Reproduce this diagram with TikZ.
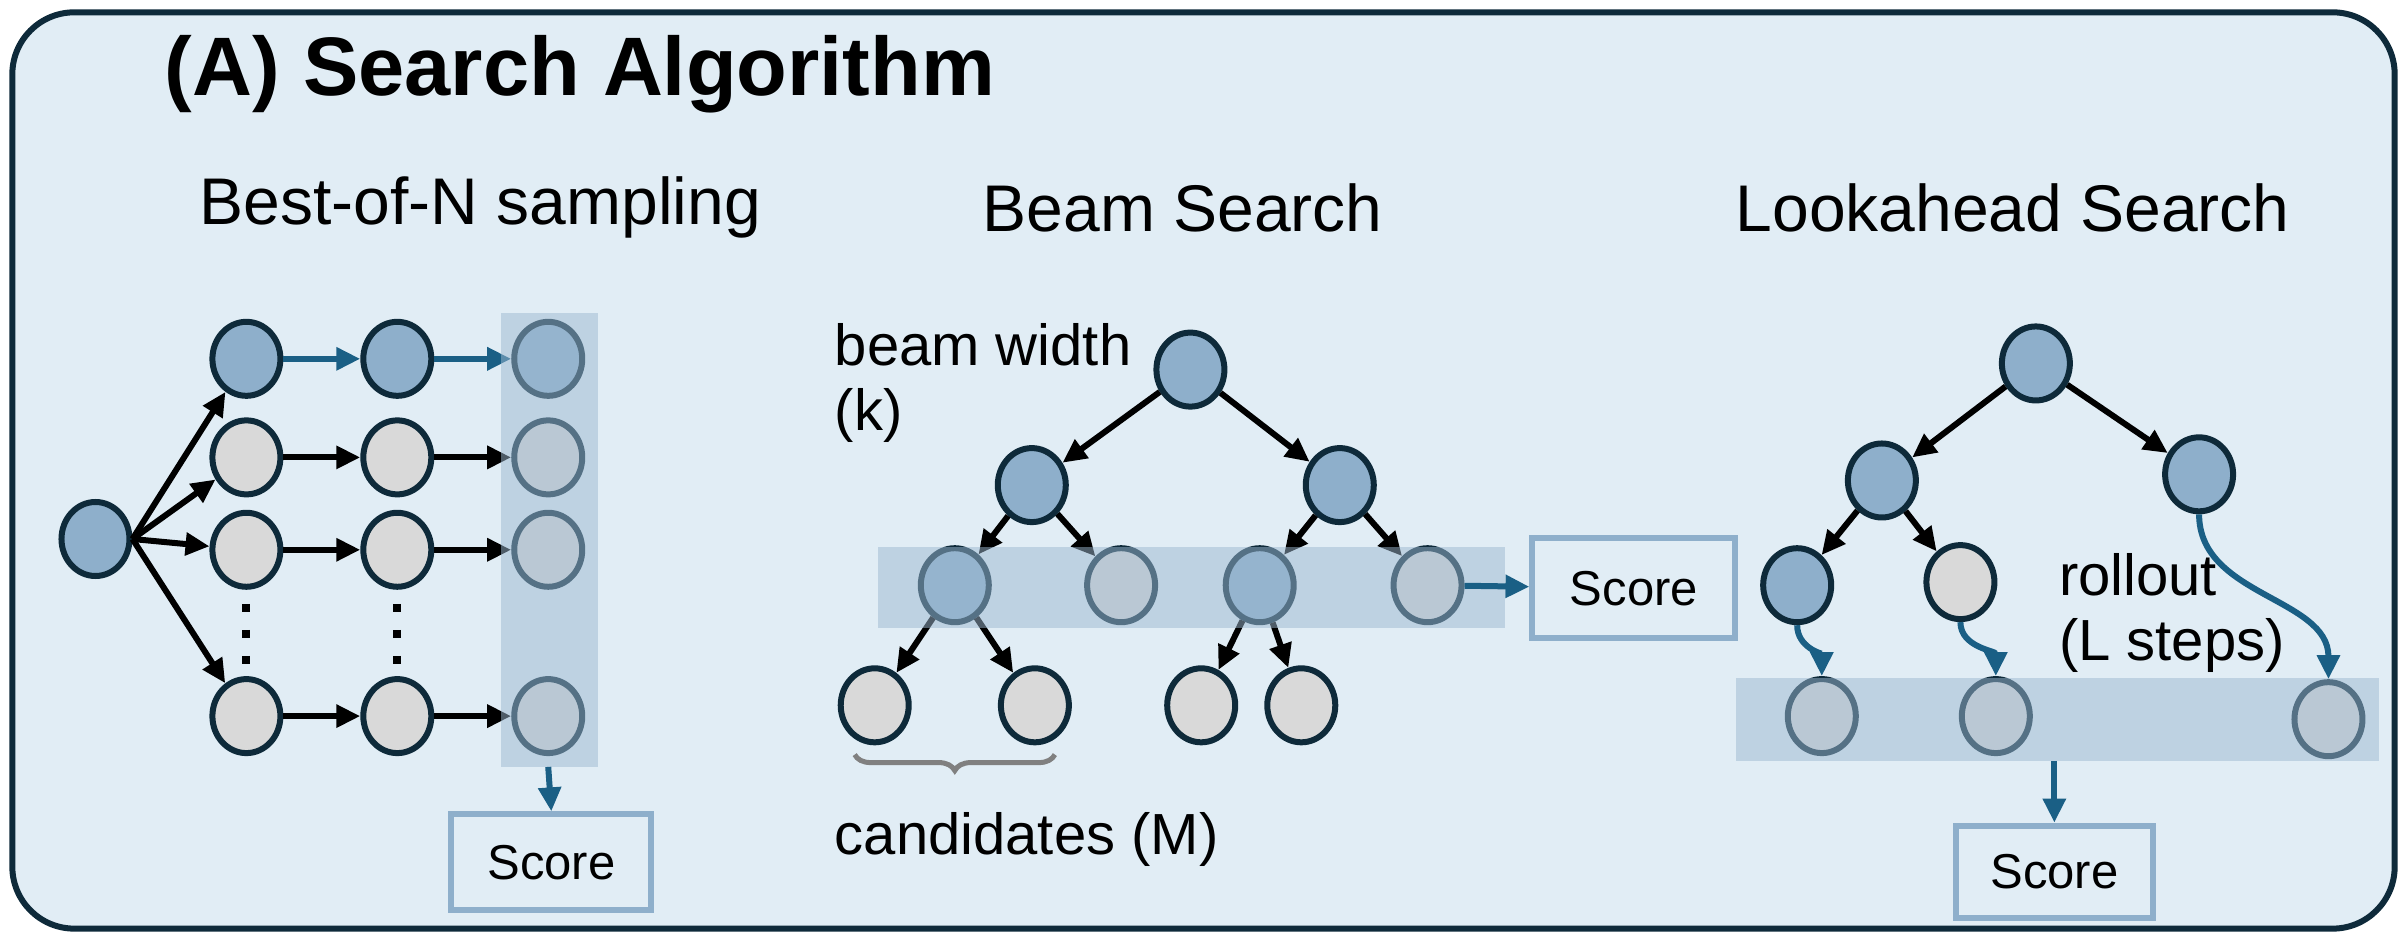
\documentclass[tikz,border=0pt]{standalone}
\usepackage{fontspec}
\setmainfont{Liberation Sans}
\usetikzlibrary{arrows.meta,shapes.geometric,decorations.pathreplacing}
\definecolor{bgblue}{HTML}{E1EDF5}
\definecolor{frame}{HTML}{0E2A3A}
\definecolor{nblue}{HTML}{8EAFCB}
\definecolor{ngrey}{HTML}{D9D9D9}
\definecolor{bandc}{HTML}{9DB9D1}
\definecolor{arrblue}{HTML}{1A5F85}
\begin{document}
\begin{tikzpicture}[x=1.54pt,y=-1.54pt,>={Triangle[length=24pt,width=22pt]},
	line width=6pt]
	\tikzset{nd/.style={ellipse,draw=frame,line width=6pt,minimum width=68pt,minimum height=74pt,inner sep=0pt},
		bl/.style={nd,fill=nblue},
		gr/.style={nd,fill=ngrey},
		band/.style={fill=bandc,opacity=0.5},
		score/.style={draw=nblue,line width=6pt,font=\fontsize{49}{56}\selectfont},
		blarr/.style={->,draw=arrblue,line width=6pt},
		sub/.style={font=\fontsize{66}{76}\selectfont}}
	\useasboundingbox (0,0) rectangle (1563,610.4);
	\draw[fill=bgblue,draw=frame,line width=6pt,rounded corners=62pt] (8,8) rectangle (1555,603);
	\node[anchor=west,font=\bfseries\fontsize{83}{90}\selectfont] (title) at (103,48) {(A) Search Algorithm};
	\node[sub] (t1) at (312,135) {Best-of-N sampling};
	\node[sub] (t2) at (768,135) {Beam Search};
	\node[sub] (t3) at (1307,135) {Lookahead Search};
	% Best-of-N
	\node[bl] (r) at (62,350) {};
	\node[bl] (b11) at (160,233) {};
	\node[bl] (b12) at (258,233) {};
	\node[bl] (b13) at (356,233) {};
	\foreach \y/\n in {297/2,357/3,465/4}{
		\node[gr] (b\n1) at (160,\y) {};
		\node[gr] (b\n2) at (258,\y) {};
		\node[gr] (b\n3) at (356,\y) {};
		\draw[->] (b\n1) -- (b\n2);
		\draw[->] (b\n2) -- (b\n3);
	}
	\foreach \n in {1,...,4} \draw[->] (r.east) -- (b\n1);
	\draw[blarr] (b11) -- (b12);
	\draw[blarr] (b12) -- (b13);
	\draw[line width=8pt,dash pattern=on 8pt off 18pt] ([yshift=-14pt]b31.south) -- (b41.north);
	\draw[line width=8pt,dash pattern=on 8pt off 18pt] ([yshift=-14pt]b32.south) -- (b42.north);
	\fill[band] (325,203) rectangle (388,498);
	\node[score,minimum width=200pt,minimum height=96pt] (s1) at (358,560) {Score};
	\coordinate (c1) at (356,498);
	\draw[blarr] (c1) -- (s1.north);
	% Beam search
	\node[bl] (a0) at (773,240) {};
	\node[bl] (a1) at (670,315) {};
	\node[bl] (a2) at (870,315) {};
	\node[bl] (a11) at (620,380) {};
	\node[gr] (a12) at (728,380) {};
	\node[bl] (a21) at (818,380) {};
	\node[gr] (a22) at (927,380) {};
	\node[gr] (c11) at (568,458) {};
	\node[gr] (c12) at (672,458) {};
	\node[gr] (c21) at (780,458) {};
	\node[gr] (c22) at (845,458) {};
	\foreach \p/\c in {a0/a1,a0/a2,a1/a11,a1/a12,a2/a21,a2/a22,a11/c11,a11/c12,a21/c21,a21/c22}
		\draw[->] (\p) -- (\c);
	\fill[band] (570,355) rectangle (977,408);
	\node[score,minimum width=203pt,minimum height=100pt] (s2) at (1061,382) {Score};
	\draw[blarr] (a22) -- (s2);
	\node[anchor=north west,align=left,font=\fontsize{58}{65}\selectfont] (bw) at (538,206) {beam width\\(k)};
	\draw[decorate,decoration={brace,mirror,amplitude=16pt},draw=gray,line width=5pt] (555,490) -- (685,490);
	\node[anchor=west,font=\fontsize{58}{65}\selectfont] (cand) at (538,545) {candidates (M)};
	% Lookahead search
	\node[bl] (l0) at (1322,236) {};
	\node[bl] (l1) at (1222,312) {};
	\node[bl] (l2) at (1428,308) {};
	\node[bl] (l11) at (1167,380) {};
	\node[gr] (l12) at (1273,378) {};
	\node[gr] (e1) at (1183,465) {};
	\node[gr] (e2) at (1296,465) {};
	\node[gr] (e3) at (1512,467) {};
	\foreach \p/\c in {l0/l1,l0/l2,l1/l11,l1/l12} \draw[->] (\p) -- (\c);
	\draw[blarr] (l11.south) to[out=-90,in=90] (e1.north);
	\draw[blarr] (l12.south) to[out=-90,in=90] (e2.north);
	\draw[blarr] (l2.south) to[out=-90,in=90] (e3.north);
	\fill[band] (1127,440) rectangle (1545,494);
	\node[anchor=north west,align=left,font=\fontsize{58}{65}\selectfont] (ro) at (1333,355) {rollout\\(L steps)};
	\node[score,minimum width=197pt,minimum height=92pt] (s3) at (1334,566) {Score};
	\coordinate (c3) at (1334,494);
	\draw[blarr] (c3) -- (s3.north);
\end{tikzpicture}
\end{document}
